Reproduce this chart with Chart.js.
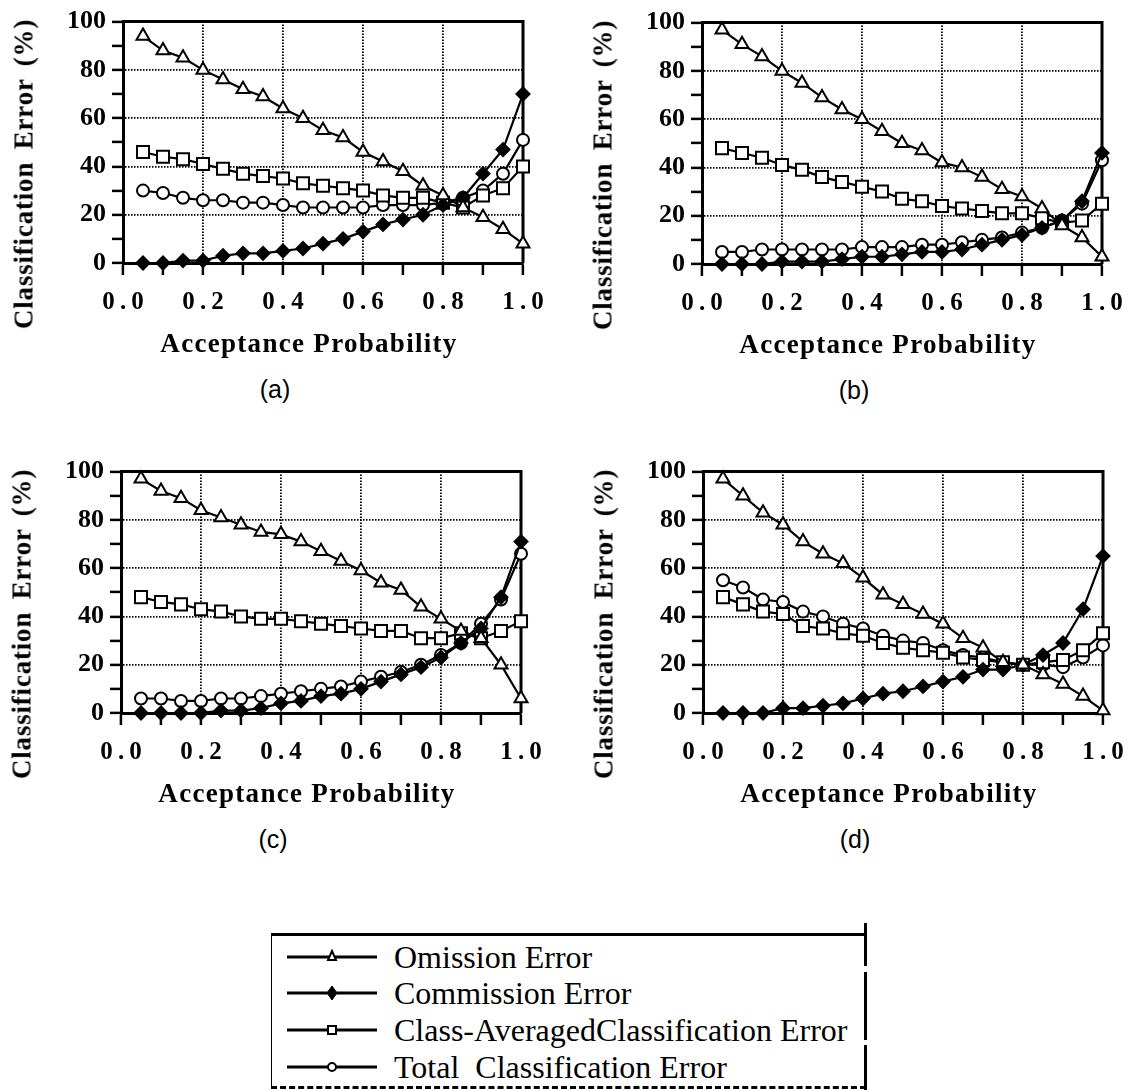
<!DOCTYPE html>
<html>
<head>
<meta charset="utf-8">
<script src="https://cdn.jsdelivr.net/npm/chart.js@4.4.1/dist/chart.umd.min.js"></script>
<style>
  html, body { margin: 0; padding: 0; background: #fff; }
  #page { position: relative; width: 1129px; height: 1090px; overflow: hidden; }
  .panel { position: absolute; width: 565px; height: 420px; }
  .panel canvas { position: absolute; left: 0; top: 0; }
  .ytitle, .xtitle, .tag { position: absolute; white-space: nowrap; color: #000; }
  .ytitle, .xtitle { font: bold 27px 'Liberation Serif', 'Times New Roman', serif; }
  .ytitle { transform: translate(-50%, -50%) rotate(-90deg); letter-spacing: 0.8px; word-spacing: 5px; }
  .xtitle { transform: translate(-50%, -50%); letter-spacing: 1.3px; }
  .tag { font: 25px 'Liberation Sans', Arial, sans-serif; transform: translate(-50%, -50%); }
  #legend { position: absolute; left: 271px; top: 933px; width: 594px; height: 150px;
            border-top: 3px solid #000; border-left: 1.5px solid #000;
            border-bottom: 3px dashed #000; }
  .edge { position: absolute; left: 864px; width: 3px; background: #000; }
  .row { position: absolute; left: 15px; height: 36px; display: flex; align-items: center;
         font: 32px 'Liberation Serif', 'Times New Roman', serif; color: #000; white-space: pre; }
  .row svg { margin-right: 17px; }
</style>
</head>
<body>
<div id="page"></div>
<script>
// acceptance probability at which each error rate was measured
const acceptance = [0.05, 0.10, 0.15, 0.20, 0.25, 0.30, 0.35, 0.40, 0.45, 0.50,
                    0.55, 0.60, 0.65, 0.70, 0.75, 0.80, 0.85, 0.90, 0.95, 1.00];
const xTickLabels = ['0.0', '0.2', '0.4', '0.6', '0.8', '1.0'];
const yTickLabels = ['0', '20', '40', '60', '80', '100'];
const seriesNames = ['Omission Error', 'Commission Error',
                     'Class-AveragedClassification Error', 'Total  Classification Error'];
const panelTags = ['(a)', '(b)', '(c)', '(d)'];

// (a)
const omissionA   = [94, 88, 85, 80, 76, 72, 69, 64, 60, 55, 52, 46, 42, 38, 32, 28, 23, 19, 14, 8];
const commissionA = [0, 0, 1, 1, 3, 4, 4, 5, 6, 8, 10, 13, 16, 18, 20, 24, 27, 37, 47, 70];
const classAvgA   = [46, 44, 43, 41, 39, 37, 36, 35, 33, 32, 31, 30, 28, 27, 27, 25, 23, 28, 31, 40];
const totalA      = [30, 29, 27, 26, 26, 25, 25, 24, 23, 23, 23, 23, 24, 24, 24, 25, 27, 30, 37, 51];
// (b)
const omissionB   = [97, 91, 86, 80, 75, 69, 64, 60, 55, 50, 47, 42, 40, 36, 31, 28, 23, 16, 11, 3];
const commissionB = [0, 0, 0, 1, 1, 1, 2, 3, 3, 4, 5, 5, 6, 8, 10, 12, 15, 18, 26, 46];
const classAvgB   = [48, 46, 44, 41, 39, 36, 34, 32, 30, 27, 26, 24, 23, 22, 21, 21, 19, 17, 18, 25];
const totalB      = [5, 5, 6, 6, 6, 6, 6, 7, 7, 7, 8, 8, 9, 10, 11, 13, 15, 18, 25, 43];
// (c)
const omissionC   = [97, 92, 89, 84, 81, 78, 75, 74, 71, 67, 63, 59, 54, 51, 44, 39, 34, 31, 20, 6];
const commissionC = [0, 0, 0, 0, 1, 1, 2, 4, 5, 7, 8, 10, 13, 16, 19, 23, 29, 35, 48, 71];
const classAvgC   = [48, 46, 45, 43, 42, 40, 39, 39, 38, 37, 36, 35, 34, 34, 31, 31, 33, 31, 34, 38];
const totalC      = [6, 6, 5, 5, 6, 6, 7, 8, 9, 10, 11, 13, 15, 17, 20, 24, 29, 37, 47, 66];
// (d)
const omissionD   = [97, 90, 83, 78, 71, 66, 62, 56, 49, 45, 41, 37, 31, 27, 21, 20, 16, 12, 7, 1];
const commissionD = [0, 0, 0, 2, 2, 3, 4, 6, 8, 9, 11, 13, 15, 18, 18, 20, 24, 29, 43, 65];
const classAvgD   = [48, 45, 42, 41, 36, 35, 33, 32, 29, 27, 26, 25, 23, 22, 21, 20, 21, 22, 26, 33];
const totalD      = [55, 52, 47, 46, 42, 40, 37, 35, 32, 30, 29, 26, 24, 23, 21, 20, 20, 19, 23, 28];

const panels = [
  { left: 0,   top: 0,   series: [omissionA, commissionA, classAvgA, totalA] },
  { left: 579, top: 1,   series: [omissionB, commissionB, classAvgB, totalB] },
  { left: -2,  top: 450, series: [omissionC, commissionC, classAvgC, totalC] },
  { left: 580, top: 450, series: [omissionD, commissionD, classAvgD, totalD] }
];

// marker look for each series, same order as seriesNames
const markers = [
  { style: 'triangle', radius: 7.5, fill: '#fff' },
  { style: 'rectRot',  radius: 6.5, fill: '#000' },
  { style: 'rect',     radius: 8.5, fill: '#fff' },
  { style: 'circle',   radius: 6,   fill: '#fff' }
];

const serif = "'Liberation Serif', 'Times New Roman', serif";
const gap = '\u2009';

// heavy frame on the top and right of the plot area
const framePlugin = {
  id: 'frame',
  beforeDatasetsDraw(chart) {
    const a = chart.chartArea, ctx = chart.ctx;
    ctx.save();
    ctx.strokeStyle = '#000';
    ctx.lineWidth = 3;
    ctx.beginPath();
    ctx.moveTo(a.left - 1, a.top);
    ctx.lineTo(a.right, a.top);
    ctx.lineTo(a.right, a.bottom);
    ctx.stroke();
    ctx.restore();
  }
};

const page = document.getElementById('page');

panels.forEach(function (p, i) {
  const box = document.createElement('div');
  box.className = 'panel';
  box.style.left = p.left + 'px';
  box.style.top = p.top + 'px';
  box.innerHTML =
    '<canvas width="565" height="330"></canvas>' +
    '<div class="ytitle" style="left:24px;top:174px">Classification Error (%)</div>' +
    '<div class="xtitle" style="left:309px;top:343px">Acceptance Probability</div>' +
    '<div class="tag" style="left:275px;top:389px">' + panelTags[i] + '</div>';
  page.appendChild(box);

  const datasets = p.series.map(function (values, k) {
    return {
      label: seriesNames[k],
      data: values.map(function (v, j) { return { x: acceptance[j], y: v }; }),
      borderColor: '#000',
      borderWidth: 2.2,
      pointStyle: markers[k].style,
      pointRadius: markers[k].radius,
      pointBackgroundColor: markers[k].fill,
      pointBorderColor: '#000',
      pointBorderWidth: 2,
      tension: 0,
      clip: false
    };
  });

  new Chart(box.querySelector('canvas').getContext('2d'), {
    type: 'line',
    data: { datasets: datasets },
    plugins: [framePlugin],
    options: {
      responsive: false,
      animation: false,
      devicePixelRatio: 1,
      layout: { padding: { top: 15, right: 42, bottom: 0, left: 0 } },
      plugins: { legend: { display: false }, tooltip: { enabled: false } },
      scales: {
        x: {
          type: 'linear',
          min: 0, max: 1,
          afterFit: function (scale) { scale.height = 67; },
          ticks: {
            stepSize: 0.1,
            autoSkip: false,
            maxRotation: 0,
            padding: 13,
            color: '#000',
            font: { family: serif, size: 25, weight: 'bold' },
            callback: function (value, index) {
              if (index % 2 !== 0) return '';
              return xTickLabels[index / 2].split('').join(gap);
            }
          },
          grid: {
            lineWidth: 1.8,
            tickLength: 12,
            tickWidth: 2.5,
            tickColor: '#000',
            color: function (ctx) {
              const v = Math.round(ctx.tick.value * 10);
              return (v % 2 === 0 && v > 0 && v < 10) ? '#000' : 'rgba(0,0,0,0)';
            }
          },
          border: { display: true, color: '#000', width: 3, dash: [1.5, 1.5] }
        },
        y: {
          min: 0, max: 100,
          afterFit: function (scale) { scale.width = 123; },
          ticks: {
            stepSize: 10,
            autoSkip: false,
            padding: 6,
            color: '#000',
            font: { family: serif, size: 26, weight: 'bold' },
            callback: function (value) {
              return value % 20 === 0 ? yTickLabels[value / 20] : '';
            }
          },
          grid: {
            lineWidth: 1.8,
            tickLength: 11,
            tickWidth: 2.5,
            tickColor: '#000',
            color: function (ctx) {
              const v = ctx.tick.value;
              return (v % 20 === 0 && v > 0 && v < 100) ? '#000' : 'rgba(0,0,0,0)';
            }
          },
          border: { display: true, color: '#000', width: 3, dash: [1.5, 1.5] }
        }
      }
    }
  });
});

// legend box under the four panels
const legend = document.createElement('div');
legend.id = 'legend';
page.appendChild(legend);

// right edge of the box, broken in places and running above the top rule
[[923, 966], [972, 1040], [1045, 1090]].forEach(function (seg) {
  const e = document.createElement('div');
  e.className = 'edge';
  e.style.top = seg[0] + 'px';
  e.style.height = (seg[1] - seg[0]) + 'px';
  page.appendChild(e);
});

function sampleSvg(m) {
  let mark;
  if (m.style === 'triangle') {
    mark = '<polygon points="45,12 41,21 49,21" fill="#fff" stroke="#000" stroke-width="2"/>';
  } else if (m.style === 'rectRot') {
    mark = '<polygon points="45,11 50,18 45,25 40,18" fill="#000" stroke="#000" stroke-width="1"/>';
  } else if (m.style === 'rect') {
    mark = '<rect x="41" y="14" width="8" height="8" fill="#fff" stroke="#000" stroke-width="2"/>';
  } else {
    mark = '<circle cx="45" cy="18" r="4" fill="#fff" stroke="#000" stroke-width="2"/>';
  }
  return '<svg width="90" height="36"><line x1="0" y1="18" x2="90" y2="18" stroke="#000" stroke-width="3"/>' +
         mark + '</svg>';
}

const rowTops = [3, 39, 76, 113];
seriesNames.forEach(function (name, k) {
  const row = document.createElement('div');
  row.className = 'row';
  row.style.top = rowTops[k] + 'px';
  row.innerHTML = sampleSvg(markers[k]) + '<span>' + name + '</span>';
  legend.appendChild(row);
});
</script>
</body>
</html>
